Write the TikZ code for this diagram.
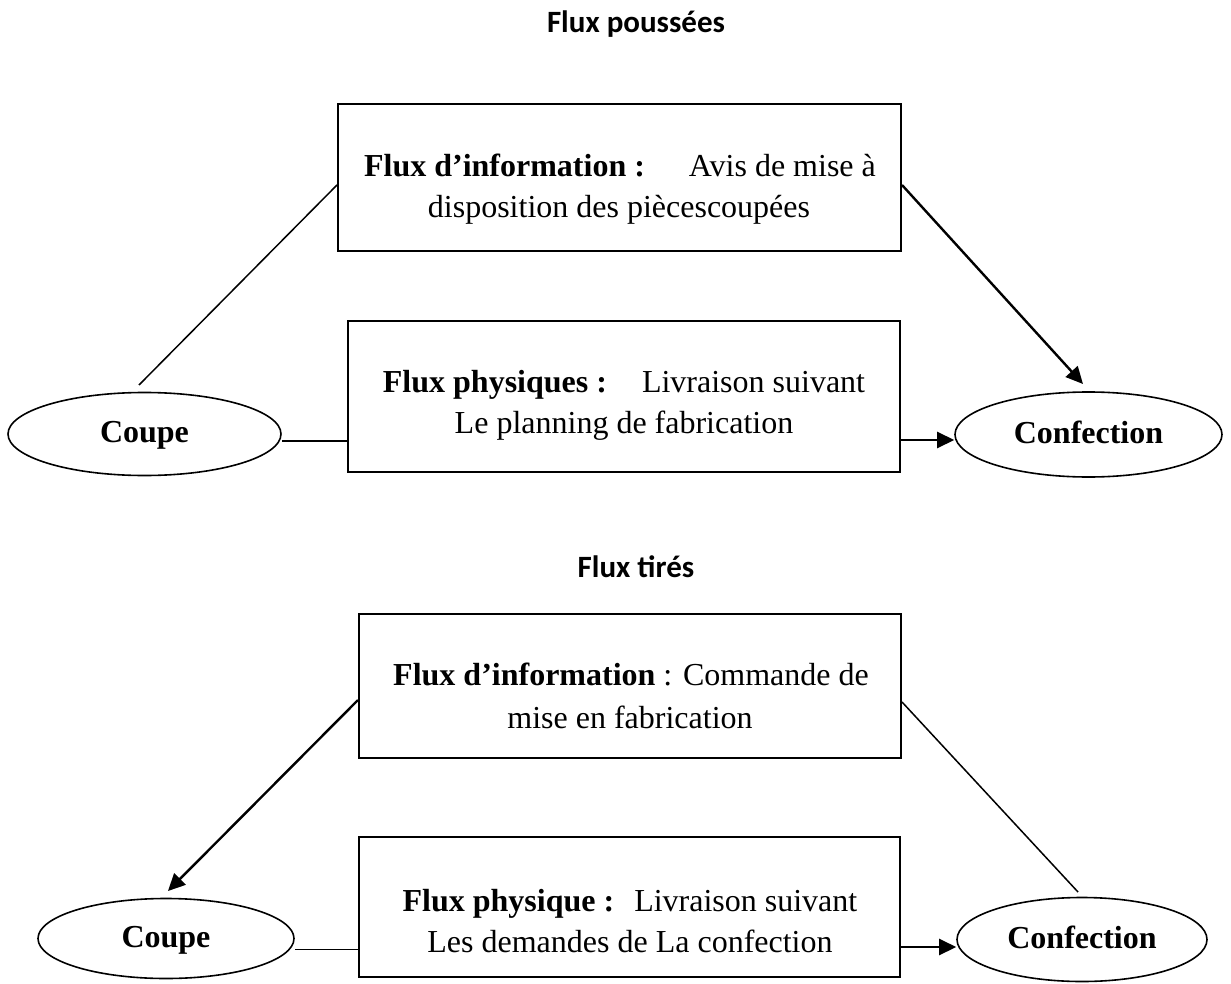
\documentclass[tikz,border=0pt]{standalone}
\usepackage{fontspec}
\setmainfont{Liberation Serif}
\newfontfamily\titlefont{Carlito}
\usetikzlibrary{arrows.meta,shapes.geometric,calc}

\begin{document}
\begin{tikzpicture}[x=1pt,y=-1pt,
  boxstyle/.style={draw, line width=2pt, rectangle, inner sep=0pt},
  ovalstyle/.style={draw, line width=1.6pt, ellipse, inner sep=0pt,
    text height=24pt, text depth=7pt,
    font=\fontsize{32}{38}\selectfont\bfseries},
  txt/.style={anchor=base, inner sep=0pt, font=\fontsize{32}{38}\selectfont},
  ttl/.style={anchor=base, inner sep=0pt, font=\titlefont\bfseries\fontsize{31}{36}\selectfont},
  link/.style={line width=1.5pt},
  arr/.style={line width=2.4pt, -{Triangle[length=17pt,width=16pt]}},
]
\useasboundingbox (0,0) rectangle (1231,984);

% ---------- push flow ----------
\node[ttl] (t1) at (636,33) {Flux poussées};

\node[boxstyle, minimum width=563pt, minimum height=147pt] (b1) at (619.5,177.5) {};
\node[txt] (b1a) at (620,177) {\textbf{Flux d’information :}\hspace*{44pt}Avis de mise à};
\node[txt] (b1b) at (619,218) {disposition des piècescoupées};

\node[boxstyle, minimum width=552pt, minimum height=151pt] (b2) at (624,396.5) {};
\node[txt] (b2a) at (624,392) {\textbf{Flux physiques :}\hspace*{35pt}Livraison suivant};
\node[txt] (b2b) at (624,433) {Le planning de fabrication};

\node[ovalstyle, minimum width=273pt, minimum height=83pt] (coupe1) at (144.5,434) {Coupe};
\node[ovalstyle, minimum width=267pt, minimum height=85pt] (conf1) at (1088.5,434.5) {Confection};

\coordinate (e1) at (139,385);
\coordinate (e2) at (1083,384);
\draw[link] (e1) -- ($(b1.west)+(0,7.5)$);
\draw[arr] ($(b1.east)+(0,7.5)$) -- (e2);
\coordinate (r1) at ($(coupe1.east)+(0,7)$);
\draw[link] (r1) -- (r1 -| b2.west);
\coordinate (r2) at ($(b2.east)+(0,43.5)$);
\draw[arr] (r2) -- (r2 -| conf1.west);

% ---------- pull flow ----------
\node[ttl] (t2) at (636,577) {Flux tirés};

\node[boxstyle, minimum width=542pt, minimum height=144pt] (b3) at (630,686) {};
\node[txt] (b3a) at (631,685) {\textbf{Flux d’information} : Commande de};
\node[txt] (b3b) at (630,728) {mise en fabrication};

\node[boxstyle, minimum width=541pt, minimum height=140pt] (b4) at (629.5,907) {};
\node[txt] (b4a) at (630,911) {\textbf{Flux physique :}\hspace*{20pt}Livraison suivant};
\node[txt] (b4b) at (630,952) {Les demandes de La confection};

\node[ovalstyle, minimum width=256pt, minimum height=80pt] (coupe2) at (166,938.5) {Coupe};
\node[ovalstyle, minimum width=250pt, minimum height=84pt] (conf2) at (1082,939.5) {Confection};

\coordinate (e3) at (168,891);
\coordinate (e4) at (1078,892);
\draw[arr] ($(b3.west)+(0,14)$) -- (e3);
\draw[link] ($(b3.east)+(0,16)$) -- (e4);
\coordinate (r3) at ($(coupe2.east)+(0,11)$);
\draw[link] (r3) -- (r3 -| b4.west);
\coordinate (r4) at ($(b4.east)+(0,40)$);
\draw[arr] (r4) -- (r4 -| conf2.west);
\end{tikzpicture}
\end{document}
